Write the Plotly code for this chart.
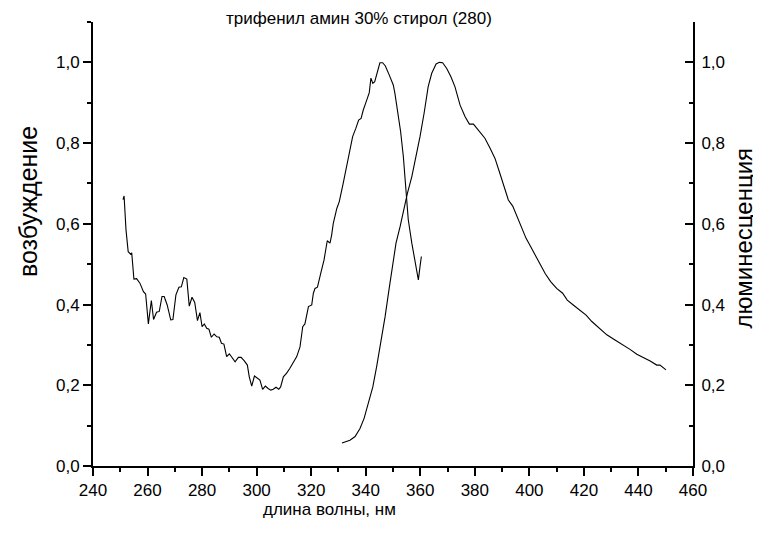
import plotly.graph_objects as go

# Excitation spectrum (left axis)
exc_wl = [251.0, 251.4, 252.1, 252.9, 253.8, 254.2, 255.0, 256.0, 257.2, 258.5, 259.3, 260.3, 261.4, 262.2,
          263.3, 264.3, 265.3, 266.1, 267.2, 268.5, 269.3, 270.4, 271.5, 272.4, 273.3, 274.4, 275.3, 276.3,
          277.3, 278.3, 279.2, 280.0, 280.8, 281.7, 282.5, 283.4, 284.4, 285.4, 286.3, 287.1, 288.0, 289.0,
          290.0, 291.0, 292.1, 293.3, 294.3, 295.4, 296.6, 297.3, 298.2, 299.2, 300.3, 301.2, 302.2, 303.2,
          304.2, 305.2, 306.1, 307.1, 308.1, 308.8, 309.8, 311.0, 312.2, 313.4, 314.7, 315.9, 316.9, 317.7,
          318.6, 319.0, 320.2, 320.8, 321.4, 322.3, 323.5, 324.7, 325.9, 326.9, 327.5, 328.1, 329.4, 330.3,
          331.6, 333.0, 334.2, 335.2, 336.4, 337.4, 338.3, 339.1, 340.4, 341.3, 341.9, 342.6, 343.3, 344.3,
          345.2, 346.2, 347.2, 348.6, 350.1, 350.7, 351.6, 352.8, 353.8, 354.8, 355.6, 356.9, 358.1, 359.3,
          359.9, 360.4]
exc_val = [0.660, 0.669, 0.585, 0.531, 0.525, 0.528, 0.463, 0.464, 0.453, 0.432, 0.426, 0.352, 0.410, 0.363,
           0.381, 0.383, 0.420, 0.420, 0.399, 0.362, 0.363, 0.424, 0.443, 0.444, 0.467, 0.463, 0.396, 0.418,
           0.405, 0.360, 0.380, 0.345, 0.352, 0.341, 0.339, 0.319, 0.327, 0.320, 0.319, 0.304, 0.302, 0.271,
           0.278, 0.267, 0.258, 0.269, 0.269, 0.261, 0.250, 0.221, 0.198, 0.223, 0.218, 0.213, 0.190, 0.198,
           0.192, 0.188, 0.190, 0.195, 0.190, 0.196, 0.221, 0.230, 0.242, 0.256, 0.271, 0.295, 0.345, 0.352,
           0.378, 0.395, 0.399, 0.428, 0.440, 0.443, 0.477, 0.510, 0.558, 0.552, 0.572, 0.601, 0.638, 0.655,
           0.696, 0.742, 0.787, 0.816, 0.837, 0.857, 0.861, 0.882, 0.907, 0.925, 0.961, 0.948, 0.952, 0.977,
           0.999, 0.999, 0.991, 0.969, 0.944, 0.923, 0.882, 0.828, 0.766, 0.676, 0.610, 0.552, 0.502, 0.461,
           0.494, 0.519]

# Luminescence spectrum (right axis)
lum_wl = [331.3, 334.2, 336.1, 337.9, 339.4, 341.0, 342.6, 344.0, 345.5, 347.1, 348.6, 349.9, 351.1, 352.6,
          353.8, 355.3, 356.9, 358.4, 359.9, 361.4, 362.9, 364.2, 365.8, 367.0, 368.2, 369.7, 371.2, 372.7,
          373.6, 374.6, 376.4, 378.0, 379.5, 381.3, 383.7, 385.6, 387.4, 389.0, 390.4, 392.3, 393.9, 395.4,
          397.2, 398.8, 400.5, 402.1, 403.9, 405.8, 407.8, 410.0, 412.2, 413.9, 416.1, 418.3, 420.8, 422.9,
          425.9, 428.4, 431.4, 434.5, 436.9, 439.4, 441.8, 444.3, 446.7, 447.9, 450.1]
lum_val = [0.057, 0.064, 0.073, 0.093, 0.118, 0.155, 0.196, 0.246, 0.304, 0.370, 0.440, 0.494, 0.552, 0.593,
           0.634, 0.676, 0.717, 0.766, 0.816, 0.874, 0.940, 0.973, 0.996, 1.000, 0.999, 0.985, 0.965, 0.940,
           0.915, 0.894, 0.866, 0.847, 0.847, 0.833, 0.812, 0.787, 0.762, 0.729, 0.700, 0.659, 0.644, 0.618,
           0.589, 0.564, 0.543, 0.523, 0.502, 0.477, 0.457, 0.440, 0.428, 0.411, 0.399, 0.388, 0.374, 0.358,
           0.341, 0.325, 0.312, 0.300, 0.289, 0.277, 0.269, 0.260, 0.250, 0.250, 0.238]

x_ticks = list(range(240, 461, 20))
y_ticks = [0.0, 0.2, 0.4, 0.6, 0.8, 1.0]
y_tick_text = ["0,0", "0,2", "0,4", "0,6", "0,8", "1,0"]

FONT = "Liberation Sans, Arial, sans-serif"

fig = go.Figure()
fig.add_trace(go.Scatter(x=exc_wl, y=exc_val, mode="lines",
                         line=dict(color="black", width=1.1), yaxis="y", showlegend=False))
fig.add_trace(go.Scatter(x=lum_wl, y=lum_val, mode="lines",
                         line=dict(color="black", width=1.1), yaxis="y2", showlegend=False))

axis_common = dict(showgrid=False, zeroline=False, showline=True, linecolor="black", linewidth=2,
                   tickcolor="black", tickwidth=1.5, tickfont=dict(family=FONT, size=17, color="black"))

# page body has an 8px margin; size the figure so it fits the 761x539 window
fig.update_layout(
    width=753, height=531,
    margin=dict(l=85, r=68, t=14, b=73),
    paper_bgcolor="white", plot_bgcolor="white",
    showlegend=False,
    xaxis=dict(range=[240, 460], tickvals=x_ticks, ticktext=[str(v) for v in x_ticks],
               ticks="outside", ticklen=8,
               minor=dict(dtick=10, tick0=240, ticks="outside", ticklen=4, tickwidth=1.5, tickcolor="black"),
               **axis_common),
    yaxis=dict(range=[0, 1.1], tickvals=y_ticks, ticktext=y_tick_text,
               ticks="outside", ticklen=8,
               minor=dict(dtick=0.1, tick0=0, ticks="outside", ticklen=4, tickwidth=1.5, tickcolor="black"),
               **axis_common),
    yaxis2=dict(range=[0, 1.1], tickvals=y_ticks, ticktext=y_tick_text, overlaying="y", side="right",
                ticks="inside", ticklen=8, ticklabelstandoff=3,
                minor=dict(dtick=0.1, tick0=0, ticks="inside", ticklen=4, tickwidth=1.5, tickcolor="black"),
                **axis_common),
    annotations=[
        dict(text="трифенил амин 30% стирол (280)", xref="paper", yref="paper", x=0.443, y=1.009,
             xanchor="center", yanchor="middle", showarrow=False,
             font=dict(family=FONT, size=17, color="black")),
        dict(text="длина волны, нм", xref="paper", yref="paper", x=0.394, y=-0.097,
             xanchor="center", yanchor="middle", showarrow=False,
             font=dict(family=FONT, size=17, color="black")),
        dict(text="возбуждение", xref="paper", yref="paper", x=-0.108, y=0.595, textangle=-90,
             xanchor="center", yanchor="middle", showarrow=False,
             font=dict(family=FONT, size=25, color="black")),
        dict(text="люминесценция", xref="paper", yref="paper", x=1.084, y=0.5135, textangle=-90,
             xanchor="center", yanchor="middle", showarrow=False,
             font=dict(family=FONT, size=24, color="black")),
    ],
)

fig.write_html("out.html")
